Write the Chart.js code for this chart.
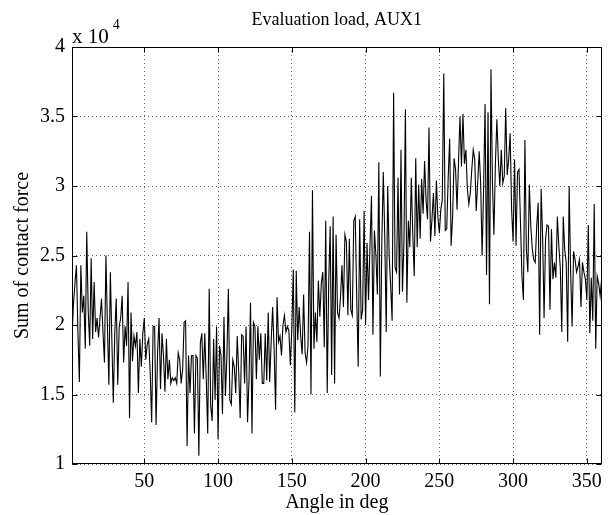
<!DOCTYPE html>
<html>
<head>
<meta charset="utf-8">
<script src="https://cdn.jsdelivr.net/npm/chart.js@4"></script>
<style>
html,body{margin:0;padding:0;background:#fff;}
canvas{display:block;}
</style>
</head>
<body>
<canvas id="c" width="608" height="515"></canvas>
<script>
// ---- data (values in units of 10^4) ----
const chartTitle = 'Evaluation load, AUX1';
const xAxisTitle = 'Angle in deg';
const yAxisTitle = 'Sum of contact force';
const scaleExponent = 4;
const angleStart = 1;   // deg
const angleStep = 1;    // deg per sample
const xMin = 1, xMax = 360;
const yMin = 1, yMax = 4;
const xTickValues = [50, 100, 150, 200, 250, 300, 350];
const yTickValues = [1, 1.5, 2, 2.5, 3, 3.5, 4];
const forceValues = [
  1.92, 2.15, 2.30, 2.43, 1.95, 1.59, 2.43, 2.09, 2.21, 1.83,
  2.67, 2.10, 1.85, 2.48, 1.90, 2.31, 1.95, 2.05, 1.91, 2.05,
  2.19, 1.95, 1.73, 2.50, 2.00, 1.57, 2.38, 1.90, 1.44, 1.95,
  2.19, 1.57, 1.99, 2.05, 2.21, 1.73, 1.99, 1.85, 2.31, 1.33,
  2.09, 1.74, 1.92, 1.85, 1.95, 1.51, 1.90,
  1.70, 1.94, 2.05, 1.75, 1.86, 1.90, 1.66, 1.30, 1.99, 1.99,
  1.28, 1.80, 2.05, 1.54, 1.94, 1.78, 1.52, 1.90, 1.61, 1.75,
  1.58, 1.62, 1.60, 1.62, 1.58, 1.80, 1.75, 1.58, 1.68, 2.02,
  2.03, 1.13, 1.78, 1.51, 1.78, 1.78, 1.22, 1.78, 1.76, 1.06,
  1.87, 1.94, 1.61,
  1.94, 1.61, 1.22, 2.26, 1.42, 1.31, 1.90, 1.46, 1.99, 1.18,
  1.85, 1.78, 1.36, 2.06, 1.49, 1.78, 2.26, 1.46, 1.43, 1.75,
  1.70, 1.51, 1.92, 1.66, 1.33, 1.93, 1.92, 1.58, 1.99, 1.30,
  1.61, 2.16, 1.22, 2.02, 1.99, 1.61, 1.99, 1.75, 1.94, 1.58,
  1.58, 1.94, 1.60, 2.09,
  1.59, 1.88, 2.13, 1.83, 1.39, 2.20, 1.88, 1.92, 1.78, 2.00,
  2.07, 1.95, 1.99, 1.96, 1.71, 1.97, 2.40, 1.37, 2.39, 1.89,
  2.13, 1.92, 1.79, 2.22, 1.80, 1.73, 1.85, 2.67, 1.50, 2.97,
  1.83, 2.09, 1.88, 2.32, 2.06, 2.30, 2.38, 1.84, 2.75, 1.51,
  2.30, 2.71, 1.64, 2.78, 1.58, 2.65,
  2.09, 2.05, 2.20, 2.43, 2.13, 2.65, 2.60, 2.07, 2.62, 2.11,
  2.07, 2.75, 2.78, 2.20, 1.70, 2.76, 2.04, 2.11, 2.82, 2.00,
  2.59, 2.18, 2.57, 2.93, 1.93, 2.68, 2.50, 2.22, 3.17, 1.63,
  2.59, 3.10, 2.64, 1.95, 3.00, 2.50, 2.28, 2.03, 3.67, 2.41,
  2.38, 3.06,
  2.22, 3.26, 2.24, 2.59, 3.55, 2.16, 2.75, 2.56, 3.06, 2.65,
  2.35, 3.20, 2.56, 3.01, 2.62, 3.05, 2.80, 3.18, 2.90, 2.76,
  3.42, 2.60, 2.76, 2.95, 2.64, 3.04, 2.78, 2.66, 2.83, 2.90,
  3.81, 2.68, 2.69, 3.06, 3.34, 2.57, 2.78, 3.20, 3.12, 2.83,
  3.17, 3.50, 3.14, 3.52,
  3.16, 3.26, 2.98, 2.87, 2.95, 3.12, 3.26, 3.19, 2.82, 3.02,
  3.25, 3.02, 2.50, 2.98,
  3.59, 2.36, 3.53, 2.15, 3.84, 3.02, 2.65, 3.16, 3.48, 3.19,
  3.00, 3.26, 3.02, 3.07, 3.56, 3.08, 3.19, 3.38, 2.83, 2.60,
  3.19, 2.57, 3.10, 3.12, 2.74, 2.35, 2.18, 3.33, 2.54, 2.38,
  3.01, 2.71, 2.55, 2.47, 2.45, 2.71, 2.88, 1.93, 2.98, 2.64,
  2.05, 2.62, 2.72, 2.71, 2.11, 2.69, 2.33, 2.45, 2.34, 2.78,
  2.57, 2.41, 1.95, 2.78, 2.54, 2.45, 1.88, 3.00, 2.38, 1.99,
  2.53, 2.47, 2.38, 2.42, 2.47, 2.13, 2.45, 2.38, 2.33, 2.18,
  2.72, 1.94, 2.34, 2.03, 2.87, 1.83, 2.35, 2.30, 2.21, 2.33
];

// ---- chart ----
const serif = '"Liberation Serif", "DejaVu Serif", serif';
const points = forceValues.map((v, i) => ({ x: angleStart + i * angleStep, y: v }));

const framePlugin = {
  id: 'matlabFrame',
  afterDraw(chart) {
    const { ctx, chartArea: a, scales } = chart;
    const L = Math.round(a.left) + 0.5, R = Math.round(a.right) - 0.5;
    const T = Math.round(a.top) + 0.5, B = Math.round(a.bottom) - 0.5;
    ctx.save();
    ctx.strokeStyle = '#000';
    ctx.lineWidth = 1;
    // inward tick marks
    const tl = 5;
    ctx.beginPath();
    xTickValues.forEach(v => {
      const px = Math.round(scales.x.getPixelForValue(v)) + 0.5;
      ctx.moveTo(px, B); ctx.lineTo(px, B - tl);
      ctx.moveTo(px, T); ctx.lineTo(px, T + tl);
    });
    yTickValues.forEach(v => {
      const py = Math.round(scales.y.getPixelForValue(v)) + 0.5;
      ctx.moveTo(L, py); ctx.lineTo(L + tl, py);
      ctx.moveTo(R, py); ctx.lineTo(R - tl, py);
    });
    ctx.stroke();
    // box
    ctx.strokeRect(L, T, R - L, B - T);
    // texts
    ctx.fillStyle = '#000';
    const cx = (a.left + a.right) / 2;
    ctx.textAlign = 'center';
    ctx.textBaseline = 'alphabetic';
    ctx.font = '18px ' + serif;
    ctx.fillText(chartTitle, cx, 25);
    ctx.font = '20px ' + serif;
    ctx.fillText(xAxisTitle, cx, 508);
    ctx.save();
    ctx.translate(28, (a.top + a.bottom) / 2);
    ctx.rotate(-Math.PI / 2);
    ctx.fillText(yAxisTitle, 0, 0);
    ctx.restore();
    // exponent label
    ctx.textAlign = 'left';
    ctx.font = '21px ' + serif;
    ctx.fillText('x 10', a.left, 43);
    const w = ctx.measureText('x 10').width;
    ctx.font = '14px ' + serif;
    ctx.fillText(String(scaleExponent), a.left + w + 4, 29);
    ctx.restore();
  }
};

new Chart(document.getElementById('c'), {
  type: 'line',
  data: {
    datasets: [{
      data: points,
      borderColor: '#000',
      borderWidth: 1.1,
      pointRadius: 0,
      tension: 0,
      fill: false
    }]
  },
  options: {
    responsive: false,
    devicePixelRatio: 1,
    animation: false,
    events: [],
    layout: { padding: { top: 47, right: 5, left: 0, bottom: 0 } },
    plugins: { legend: { display: false }, title: { display: false }, tooltip: { enabled: false } },
    scales: {
      x: {
        type: 'linear',
        min: xMin, max: xMax,
        afterBuildTicks: s => { s.ticks = xTickValues.map(v => ({ value: v })); },
        afterFit: s => { s.height = 51; },
        grid: { color: '#666', lineWidth: 1, drawTicks: false },
        border: { display: false, dash: [1, 3] },
        ticks: { color: '#000', padding: 6, maxRotation: 0, autoSkip: false,
                 font: { family: serif, size: 20 } }
      },
      y: {
        type: 'linear',
        min: yMin, max: yMax,
        afterBuildTicks: s => { s.ticks = yTickValues.map(v => ({ value: v })); },
        afterFit: s => { s.width = 72; },
        grid: { color: '#666', lineWidth: 1, drawTicks: false },
        border: { display: false, dash: [1, 3] },
        ticks: { color: '#000', padding: 7, autoSkip: false,
                 font: { family: serif, size: 20 },
                 callback: v => String(v) }
      }
    }
  },
  plugins: [framePlugin]
});
</script>
</body>
</html>
